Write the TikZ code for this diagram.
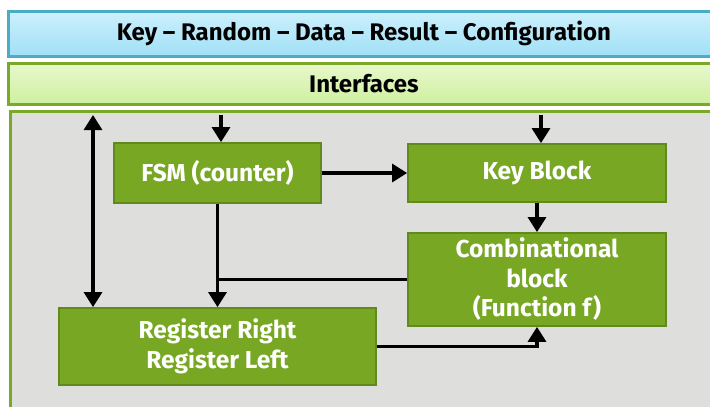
\documentclass[tikz,border=0pt]{standalone}
\usepackage{fontspec}
\setmainfont{Fira Sans}
\usetikzlibrary{arrows.meta,calc}
\definecolor{boxgreen}{RGB}{120,167,36}
\definecolor{boxedge}{RGB}{96,137,30}
\definecolor{panelgray}{RGB}{222,222,221}
\definecolor{paneledge}{RGB}{122,168,40}
\definecolor{blueedge}{RGB}{75,172,198}
\definecolor{bluetop}{RGB}{205,240,252}
\definecolor{bluebot}{RGB}{160,224,246}
\definecolor{greentop}{RGB}{232,248,204}
\definecolor{greenbot}{RGB}{206,240,160}
\tikzset{
  block/.style={draw=boxedge, line width=1.8pt, fill=boxgreen, text=white,
    font=\fontsize{24.5}{29.5}\selectfont\bfseries, align=center, inner sep=0pt},
  conn/.style={line width=3.2pt, draw=black},
  tip/.style={-{Triangle[width=18pt,length=15pt]}},
  btip/.style={{Triangle[width=18pt,length=15pt]}-{Triangle[width=18pt,length=15pt]}}
}
\begin{document}
\begin{tikzpicture}[x=1pt,y=-1pt]
\useasboundingbox (0,0) rectangle (710,407);
\fill[white] (0,0) rectangle (710,407);
% header bars
\shade[top color=bluetop, bottom color=bluebot, draw=blueedge, line width=3pt]
  (8,11) rectangle (720,56);
\node[font=\fontsize{24}{28}\selectfont\bfseries] (hdr) at (364,33.5) {Key – Random – Data – Result – Configuration};
\shade[top color=greentop, bottom color=greenbot, draw=paneledge, line width=3pt]
  (8,63) rectangle (720,104);
\node[font=\fontsize{24}{28}\selectfont\bfseries] (intf) at (364,83.5) {Interfaces};
% panel
\filldraw[fill=panelgray, draw=paneledge, line width=3pt] (10.5,111.5) rectangle (720,420);
% blocks
\node[block, minimum width=207pt, minimum height=60pt] (fsm) at (217.5,173) {FSM (counter)};
\node[block, minimum width=258pt, minimum height=58pt] (key) at (537,173) {Key Block};
\node[block, minimum width=258pt, minimum height=93pt] (comb) at (537,279.5) {Combinational\\block\\(Function f)};
\node[block, minimum width=317pt, minimum height=77pt] (reg) at (217.5,346.5) {Register Right\\Register Left};
% connectors
\coordinate (t1) at (93,115);
\coordinate (t2) at (221,115);
\coordinate (t3) at (541,115);
\draw[conn, btip] (t1) -- (t1 |- reg.north);
\draw[conn, tip] (t2) -- (t2 |- fsm.north);
\draw[conn, tip] (t3) -- (t3 |- key.north);
\draw[conn, tip] (fsm.east) -- (key.west);
\draw[conn, tip] (key.south) -- (key.south |- comb.north);
\draw[conn, tip] (fsm.south) -- (reg.north);
\draw[conn] (comb.west) -- (comb.west -| fsm.south);
\draw[conn, tip] (reg.east) -| (comb.south);
\end{tikzpicture}
\end{document}
